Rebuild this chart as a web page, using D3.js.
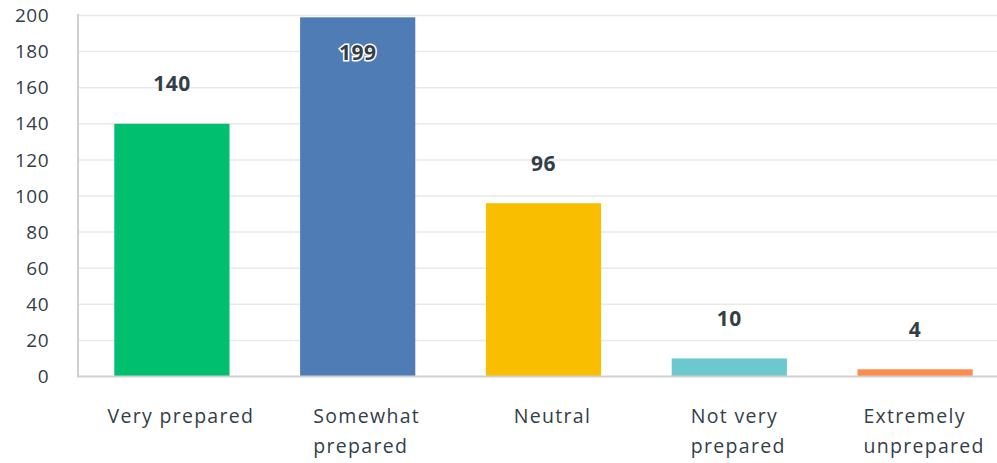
<!DOCTYPE html>
<html>
<head>
<meta charset="utf-8">
<script src="https://cdn.jsdelivr.net/npm/d3@7"></script>
<style>
  body { margin: 0; background: #fff; }
  svg text { font-family: "Open Sans", "DejaVu Sans", sans-serif; }
</style>
</head>
<body>
<div id="chart"></div>
<script>
var categories = [["Very prepared"], ["Somewhat", "prepared"], ["Neutral"], ["Not very", "prepared"], ["Extremely", "unprepared"]];
var counts = [140, 199, 96, 10, 4];
var barColors = ["#00bf6f", "#507cb6", "#f9be00", "#6bc8cd", "#ff8b4f"];
var yTicks = [0, 20, 40, 60, 80, 100, 120, 140, 160, 180, 200];

var width = 997, height = 463;
var svg = d3.select("#chart").append("svg")
    .attr("width", width)
    .attr("height", height);

var x = d3.scaleBand()
    .domain(d3.range(categories.length))
    .range([79, 1008])
    .paddingInner(0.38)
    .paddingOuter(0.19);

var y = d3.scaleLinear()
    .domain([0, 200])
    .range([376.5, 15.5]);

// gridlines
svg.append("g")
    .selectAll("line")
    .data(yTicks.slice(1))
    .enter().append("line")
    .attr("x1", 78).attr("x2", width)
    .attr("y1", function(d){ return y(d); })
    .attr("y2", function(d){ return y(d); })
    .style("stroke", "#e9e9e9")
    .style("stroke-width", 1.5);

// y tick labels
svg.append("g")
    .selectAll("text")
    .data(yTicks)
    .enter().append("text")
    .attr("x", 49)
    .attr("y", function(d){ return y(d); })
    .attr("dy", "0.35em")
    .attr("text-anchor", "end")
    .style("font-size", "19px")
    .style("letter-spacing", "0.5px")
    .style("fill", "#333e48")
    .text(function(d){ return d; });

// bars
svg.append("g")
    .selectAll("rect")
    .data(counts)
    .enter().append("rect")
    .attr("x", function(d, i){ return x(i); })
    .attr("width", x.bandwidth())
    .attr("y", function(d){ return y(d); })
    .attr("height", function(d){ return y(0) - y(d); })
    .style("fill", function(d, i){ return barColors[i]; });

// axis lines
svg.append("line")
    .attr("x1", 78).attr("x2", 78)
    .attr("y1", 14).attr("y2", y(0))
    .style("stroke", "#d0d0d0").style("stroke-width", 2);
svg.append("line")
    .attr("x1", 77).attr("x2", width)
    .attr("y1", y(0)).attr("y2", y(0))
    .style("stroke", "#d0d0d0").style("stroke-width", 2);

// value labels
var labels = svg.append("g")
    .selectAll("text")
    .data(counts)
    .enter().append("text")
    .attr("x", function(d, i){ return x(i) + x.bandwidth() / 2; })
    .attr("y", function(d){ return Math.max(y(d) - 40, 53); })
    .attr("dy", "0.35em")
    .attr("text-anchor", "middle")
    .style("font-size", "21px")
    .style("font-weight", "bold")
    .style("letter-spacing", "0.5px")
    .style("fill", "#333e48")
    .style("paint-order", "stroke")
    .style("stroke", function(d){ return y(d) - 40 < 53 ? "#fff" : "none"; })
    .style("stroke-width", 3)
    .text(function(d){ return d; });

// category labels: left aligned lines, block centred a bit right of the bar
var cat = svg.append("g")
    .selectAll("text")
    .data(categories)
    .enter().append("text")
    .attr("y", 416)
    .attr("text-anchor", "start")
    .style("font-size", "19.5px")
    .style("letter-spacing", "1.3px")
    .style("fill", "#333e48");
cat.selectAll("tspan")
    .data(function(d){ return d; })
    .enter().append("tspan")
    .attr("dy", function(d, i){ return i === 0 ? "0.35em" : "30px"; })
    .text(function(d){ return d; });
cat.each(function(d, i){
    var t = d3.select(this);
    var maxW = 0;
    t.selectAll("tspan").each(function(){ maxW = Math.max(maxW, this.getComputedTextLength()); });
    var left = x(i) + x.bandwidth() / 2 + 9 - maxW / 2;
    t.selectAll("tspan").attr("x", left);
});
</script>
</body>
</html>
